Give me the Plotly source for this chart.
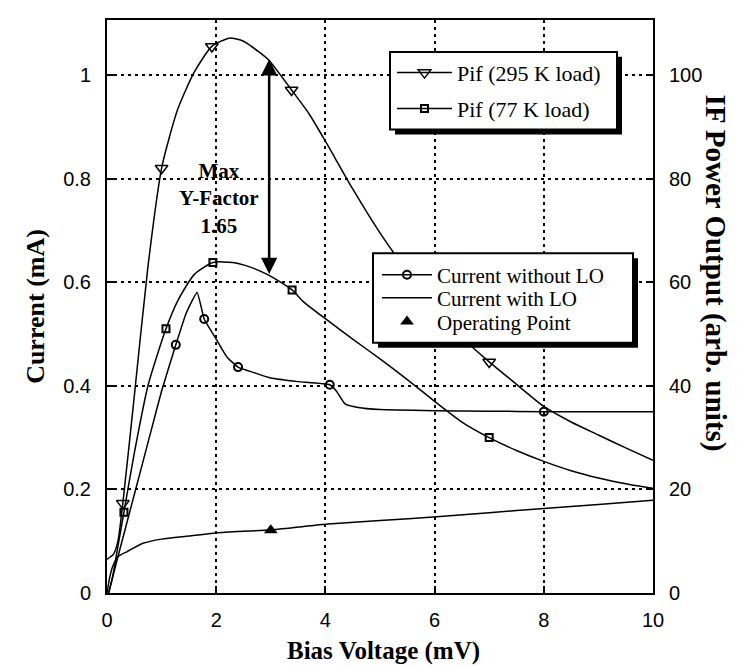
import plotly.graph_objects as go

# ---------------- data ----------------
# Pif (295 K load) curve, right axis (arb. units)
pif295_x = [0.0, 0.12, 0.2, 0.29, 0.5, 0.75, 1.0, 1.13, 1.3, 1.59, 1.92, 2.24, 2.5, 2.8, 2.97, 3.38,
            3.7, 4.0, 4.5, 5.0, 5.5, 6.0, 6.5, 7.0, 7.44, 8.0, 8.5, 9.0, 9.5, 10.0]
pif295_y = [6.5, 7.5, 10.0, 17.3, 38.0, 63.0, 82.0, 87.5, 93.5, 100.4, 105.5, 107.1, 106.5, 104.3, 102.8, 97.1,
            92.5, 87.2, 78.0, 69.5, 62.0, 55.0, 49.3, 44.6, 40.8, 36.0, 33.0, 30.5, 28.0, 25.6]
pif295_mx = [0.29, 1.0, 1.92, 3.38, 7.0]
pif295_my = [17.3, 82.0, 105.5, 97.1, 44.6]

# Pif (77 K load) curve, right axis
pif77_x = [0.03, 0.1, 0.2, 0.31, 0.5, 0.75, 1.08, 1.3, 1.6, 1.94, 2.3, 2.6, 2.97, 3.39, 3.6, 4.03,
           4.5, 5.0, 5.5, 6.0, 6.5, 7.0, 7.5, 8.0, 8.5, 9.0, 9.5, 10.0]
pif77_y = [0.0, 3.0, 9.0, 15.6, 27.0, 40.0, 51.0, 56.5, 61.5, 63.8, 63.8, 63.0, 61.3, 58.5, 56.2, 52.7,
           49.0, 45.2, 41.2, 37.0, 33.0, 30.0, 27.5, 25.4, 23.6, 22.2, 21.1, 20.2]
pif77_mx = [0.31, 1.08, 1.94, 3.39, 7.0]
pif77_my = [15.6, 51.0, 63.8, 58.5, 30.0]

# Current without LO (mA)
iv_nolo_x = [0.03, 0.2, 0.5, 0.8, 1.0, 1.26, 1.45, 1.65, 1.78, 2.0, 2.2, 2.4, 2.7, 3.0, 3.5, 4.08,
             4.2, 4.36, 4.6, 5.0, 6.0, 7.0, 8.0, 9.0, 10.0]
iv_nolo_y = [0.0, 0.07, 0.19, 0.31, 0.39, 0.479, 0.54, 0.58, 0.529, 0.49, 0.455, 0.436, 0.425, 0.415,
             0.408, 0.402, 0.39, 0.365, 0.358, 0.354, 0.352, 0.351, 0.35, 0.35, 0.35]
iv_nolo_mx = [1.26, 1.78, 2.4, 4.08, 8.0]
iv_nolo_my = [0.479, 0.529, 0.436, 0.402, 0.35]

# Current with LO (mA)
iv_lo_x = [0.0, 0.05, 0.1, 0.2, 0.37, 0.66, 1.0, 1.5, 2.0, 3.0, 4.05, 5.0, 6.04, 7.0, 8.0, 9.0, 10.0]
iv_lo_y = [0.0, 0.03, 0.05, 0.07, 0.08, 0.096, 0.104, 0.11, 0.116, 0.122, 0.133, 0.14, 0.147, 0.155,
           0.163, 0.171, 0.179]

# Operating point
op_x = [3.0]
op_y = [0.121]

# Y-factor arrow (data coords, left axis)
arrow_x = 2.97
arrow_top = 1.03
arrow_bottom = 0.613
yf_text_x = 2.05
yf_text_y = 0.762

x_ticks = [0, 2, 4, 6, 8, 10]
y_ticks = [0, 0.2, 0.4, 0.6, 0.8, 1.0]
y_tick_text = ["0", "0.2", "0.4", "0.6", "0.8", "1"]
y2_ticks = [0, 20, 40, 60, 80, 100]

# ---------------- figure ----------------
# the page body has an 8px margin, so the figure is shrunk by that amount
OFF = 8
W, H = 753 - OFF, 666 - OFF
# plot area in screen pixels: x 107..653, y 18..593
SX0, SX1, SY0, SY1 = 107, 653, 18, 593
L, T = SX0 - OFF, SY0 - OFF
R, B = W - (SX1 - OFF), H - (SY1 - OFF)
PW, PH = SX1 - SX0, SY1 - SY0

def px_x(p):
    """screen x pixel -> paper coordinate"""
    return (p - SX0) / PW

def px_y(p):
    """screen y pixel -> paper coordinate"""
    return (SY1 - p) / PH

SERIF = "Liberation Serif, Times New Roman, serif"
SANS = "Liberation Sans Narrow, Liberation Sans, Arial, sans-serif"
BLK = "black"

fig = go.Figure()

# curves
fig.add_trace(go.Scatter(x=pif295_x, y=pif295_y, mode="lines", yaxis="y2",
                         line=dict(color=BLK, width=1.5, shape="spline", smoothing=0.6),
                         showlegend=False, hoverinfo="skip"))
fig.add_trace(go.Scatter(x=pif77_x, y=pif77_y, mode="lines", yaxis="y2",
                         line=dict(color=BLK, width=1.5, shape="spline", smoothing=0.6),
                         showlegend=False, hoverinfo="skip"))
fig.add_trace(go.Scatter(x=iv_nolo_x, y=iv_nolo_y, mode="lines",
                         line=dict(color=BLK, width=1.5, shape="spline", smoothing=0.4),
                         showlegend=False, hoverinfo="skip"))
fig.add_trace(go.Scatter(x=iv_lo_x, y=iv_lo_y, mode="lines",
                         line=dict(color=BLK, width=1.5, shape="spline", smoothing=0.6),
                         showlegend=False, hoverinfo="skip"))

# markers
fig.add_trace(go.Scatter(x=pif295_mx, y=pif295_my, mode="markers", yaxis="y2",
                         marker=dict(symbol="triangle-down-open", size=11, color=BLK, line=dict(width=1.5)),
                         showlegend=False))
fig.add_trace(go.Scatter(x=pif77_mx, y=pif77_my, mode="markers", yaxis="y2",
                         marker=dict(symbol="square-open", size=7, color=BLK, line=dict(width=2)),
                         showlegend=False))
fig.add_trace(go.Scatter(x=iv_nolo_mx, y=iv_nolo_my, mode="markers",
                         marker=dict(symbol="circle-open", size=8, color=BLK, line=dict(width=2)),
                         showlegend=False))
fig.add_trace(go.Scatter(x=op_x, y=op_y, mode="markers",
                         marker=dict(symbol="triangle-up", size=12, color=BLK),
                         showlegend=False))

# legend proxies, one legend per entry so each row can be placed
fig.add_trace(go.Scatter(x=[None], y=[None], mode="lines+markers", name="Pif (295 K load)",
                         line=dict(color=BLK, width=1.5), legend="legend",
                         marker=dict(symbol="triangle-down-open", size=11, color=BLK, line=dict(width=1.5))))
fig.add_trace(go.Scatter(x=[None], y=[None], mode="lines+markers", name="Pif (77 K load)",
                         line=dict(color=BLK, width=1.5), legend="legend2",
                         marker=dict(symbol="square-open", size=7, color=BLK, line=dict(width=2))))
fig.add_trace(go.Scatter(x=[None], y=[None], mode="lines+markers", name="Current without LO",
                         line=dict(color=BLK, width=1.5), legend="legend3",
                         marker=dict(symbol="circle-open", size=8, color=BLK, line=dict(width=2))))
fig.add_trace(go.Scatter(x=[None], y=[None], mode="lines", name="Current with LO",
                         line=dict(color=BLK, width=1.5), legend="legend4"))
fig.add_trace(go.Scatter(x=[None], y=[None], mode="markers", name="Operating Point",
                         marker=dict(symbol="triangle-up", size=12, color=BLK), legend="legend5"))

# legend frames (box + shadow), screen pixels
shapes = []
for (x0, y0, x1, y1) in [(390, 50, 617, 128), (373, 252, 633, 342)]:
    shapes.append(dict(type="rect", xref="paper", yref="paper",
                       x0=px_x(x0 + 5), x1=px_x(x1 + 5), y0=px_y(y1 + 5), y1=px_y(y0 + 5),
                       fillcolor=BLK, line=dict(width=0), layer="above"))
    shapes.append(dict(type="rect", xref="paper", yref="paper",
                       x0=px_x(x0), x1=px_x(x1), y0=px_y(y1), y1=px_y(y0),
                       fillcolor="white", line=dict(color=BLK, width=2), layer="above"))

annotations = [
    dict(x=arrow_x, y=arrow_top, ax=arrow_x, ay=arrow_bottom, xref="x", yref="y", axref="x", ayref="y",
         showarrow=True, arrowhead=2, arrowside="end+start", arrowsize=1.3, arrowwidth=2.5,
         arrowcolor=BLK, text=""),
    dict(x=yf_text_x, y=yf_text_y, xref="x", yref="y", showarrow=False,
         text="<b>Max<br>Y-Factor<br>1.65</b>", font=dict(family=SERIF, size=21, color=BLK),
         align="center"),
    dict(x=px_x(734), y=px_y(272), xref="paper", yref="paper", showarrow=False, textangle=90,
         text="<b>IF Power Output (arb. units)</b>", font=dict(family=SERIF, size=29, color=BLK)),
    dict(x=px_x(383), y=px_y(651), xref="paper", yref="paper", showarrow=False, yanchor="middle",
         text="<b>Bias Voltage (mV)</b>", font=dict(family=SERIF, size=25, color=BLK)),
]

def leg(xpx, ypx, size, iw):
    return dict(x=px_x(xpx), y=px_y(ypx), xanchor="left", yanchor="middle", bgcolor="rgba(0,0,0,0)",
                borderwidth=0, font=dict(family=SERIF, size=size, color=BLK), itemwidth=iw)

fig.update_layout(
    width=W, height=H,
    margin=dict(l=L, r=R, t=T, b=B, pad=0),
    paper_bgcolor="white", plot_bgcolor="white",
    font=dict(family=SANS, color=BLK),
    shapes=shapes, annotations=annotations,
    xaxis=dict(range=[0, 10], tickvals=x_ticks, ticks="inside", ticklen=7, tickwidth=1.5, tickcolor=BLK,
               showline=True, linecolor=BLK, linewidth=2, mirror=True,
               showgrid=True, gridcolor=BLK, gridwidth=1.5, griddash="3px,4px",
               zeroline=False, tickfont=dict(family=SANS, size=20), ticklabelstandoff=8),
    yaxis=dict(range=[0, 1.106], tickvals=y_ticks, ticktext=y_tick_text, ticks="inside", ticklen=7,
               tickwidth=1.5, tickcolor=BLK,
               showline=True, linecolor=BLK, linewidth=2,
               showgrid=True, gridcolor=BLK, gridwidth=1.5, griddash="3px,4px",
               zeroline=False, tickfont=dict(family=SANS, size=20), ticklabelstandoff=10,
               title=dict(text="<b>Current (mA)</b>", font=dict(family=SERIF, size=26), standoff=11)),
    yaxis2=dict(range=[0, 110.6], tickvals=y2_ticks, overlaying="y", side="right", ticks="inside",
                ticklen=7, tickwidth=1.5, tickcolor=BLK,
                showline=True, linecolor=BLK, linewidth=2, showgrid=False, zeroline=False,
                tickfont=dict(family=SANS, size=20), ticklabelstandoff=10),
    legend=leg(392, 71, 22, 55),
    legend2=leg(392, 107, 22, 55),
    legend3=leg(377, 274, 21, 50),
    legend4=leg(377, 297, 21, 50),
    legend5=leg(377, 321, 21, 50),
)

fig.write_html("out.html")
